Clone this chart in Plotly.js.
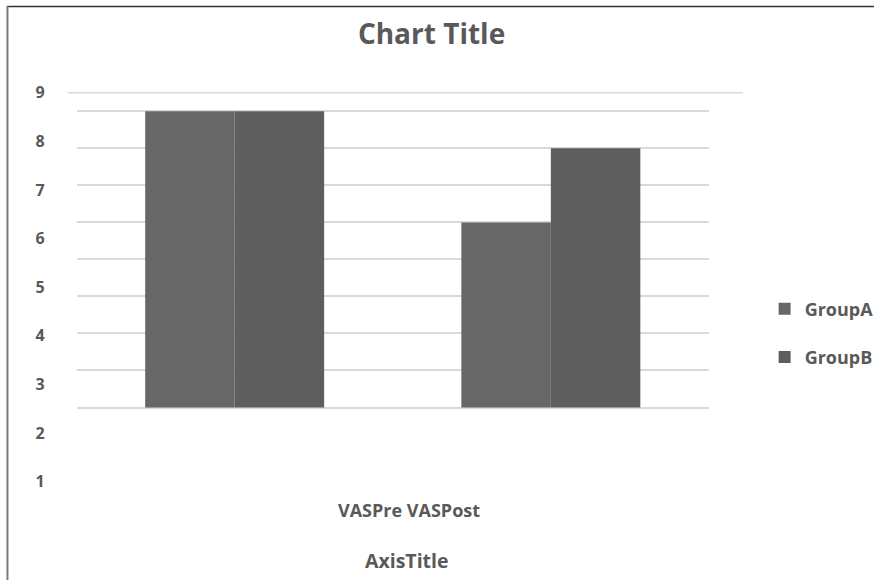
<!DOCTYPE html>
<html>
<head>
<meta charset="utf-8">
<script src="https://cdn.plot.ly/plotly-3.0.1.min.js"></script>
<style>html,body{margin:0;padding:0;background:#fff;}#chart{width:879px;height:580px;}</style>
</head>
<body>
<div id="chart"></div>
<script>
// ---- data ----
const categories = ['VASPre', 'VASPost'];
const seriesNames = ['GroupA', 'GroupB'];
const groupA = [8, 5];
const groupB = [8, 7];
const leftTickVals = [1, 2, 3, 4, 5, 6, 7, 8, 9];
const gridTickVals = [0, 1, 2, 3, 4, 5, 6, 7, 8];
const chartTitle = 'Chart Title';
const axisTitle = 'AxisTitle';

// ---- helpers (pixel -> paper, margins are 0) ----
const W = 879, H = 580;
const px = v => v / W;
const py = v => 1 - v / H;
const txt = '#595959';
const F = 'Open Sans, Noto Sans, sans-serif';

const traces = [
  {type: 'bar', name: seriesNames[0], x: categories, y: groupA, xaxis: 'x', yaxis: 'y2',
   marker: {color: '#676767', line: {width: 0}}, legendgroup: 'a', hoverinfo: 'x+y+name'},
  {type: 'bar', name: seriesNames[1], x: categories, y: groupB, xaxis: 'x', yaxis: 'y2',
   marker: {color: '#5e5e5e', line: {width: 0}}, legendgroup: 'b', hoverinfo: 'x+y+name'}
];

// left label axis: 9 at y=92.7px, 1 at y=481.7px
const lStep = (481.7 - 92.7) / 8;
const lTop = 9 + 92.7 / lStep;
const lBot = 9 - (H - 92.7) / lStep;
// grid axis: 0 at y=407.5px, 8 at y=111.3px
const gStep = (407.5 - 111.3) / 8;
const gTop = (407.5) / gStep;
const gBot = -(H - 407.5) / gStep;

const layout = {
  width: W, height: H,
  margin: {l: 0, r: 0, t: 0, b: 0},
  paper_bgcolor: '#fff', plot_bgcolor: 'rgba(0,0,0,0)',
  font: {family: F, color: txt},
  title: {text: chartTitle, font: {family: F, size: 28, color: txt, weight: 'bold'},
          x: px(434), xanchor: 'center', xref: 'paper', y: py(34), yanchor: 'middle', yref: 'paper'},
  barmode: 'group', bargap: 0.434, bargroupgap: 0,
  xaxis: {domain: [px(77), px(713)], type: 'category', range: [-0.5, 1.5],
          showticklabels: false, showgrid: false, zeroline: false, showline: false, ticks: ''},
  yaxis: {anchor: 'free', position: px(45), domain: [0, 1], range: [lBot, lTop],
          tickvals: leftTickVals, showgrid: false, zeroline: false, showline: false, ticks: '',
          tickfont: {family: F, size: 16, color: txt, weight: 'bold'}},
  yaxis2: {overlaying: 'y', anchor: 'x', domain: [0, 1], range: [gBot, gTop],
           tickvals: gridTickVals, showticklabels: false, showgrid: true, gridcolor: '#d9d9d9',
           gridwidth: 1.5, zeroline: false, showline: false, ticks: ''},
  showlegend: true,
  legend: {x: px(769), xanchor: 'left', y: py(333), yanchor: 'middle',
           traceorder: 'grouped', tracegroupgap: 22, bgcolor: 'rgba(0,0,0,0)',
           font: {family: F, size: 18, color: txt, weight: 'bold'}},
  annotations: [
    {text: categories.join(' '), xref: 'paper', yref: 'paper', x: px(411), y: py(510),
     xanchor: 'center', yanchor: 'middle', showarrow: false,
     font: {family: F, size: 18, color: txt, weight: 'bold'}},
    {text: axisTitle, xref: 'paper', yref: 'paper', x: px(409), y: py(560),
     xanchor: 'center', yanchor: 'middle', showarrow: false,
     font: {family: F, size: 19.5, color: txt, weight: 'bold'}}
  ],
  shapes: [
    {type: 'line', xref: 'paper', yref: 'y', x0: px(68), x1: px(747), y0: 9, y1: 9,
     line: {color: '#d9d9d9', width: 1.5}, layer: 'below'},
    {type: 'line', xref: 'paper', yref: 'paper', x0: px(7), x1: 1, y0: py(6.5), y1: py(6.5),
     line: {color: '#333333', width: 1.5}},
    {type: 'line', xref: 'paper', yref: 'paper', x0: px(7.5), x1: px(7.5), y0: py(6), y1: 0,
     line: {color: '#7a7a7a', width: 2}}
  ]
};

Plotly.newPlot('chart', traces, layout, {displayModeBar: false, staticPlot: false});
</script>
</body>
</html>
